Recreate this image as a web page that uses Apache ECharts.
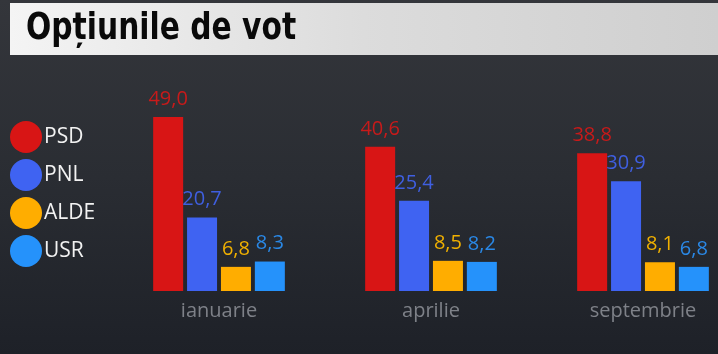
<!DOCTYPE html>
<html>
<head>
<meta charset="utf-8">
<script src="https://cdn.jsdelivr.net/npm/echarts@6/dist/echarts.min.js"></script>
<style>
  html, body { margin: 0; padding: 0; }
  #container { width: 718px; height: 354px; }
</style>
</head>
<body>
<div id="container"></div>
<script>
var months = ['ianuarie', 'aprilie', 'septembrie'];
var parties = ['PSD', 'PNL', 'ALDE', 'USR'];
var psd = [49.0, 40.6, 38.8];
var pnl = [20.7, 25.4, 30.9];
var alde = [6.8, 8.5, 8.1];
var usr = [8.3, 8.2, 6.8];
var barColors = ['#d81515', '#3f63f2', '#ffad00', '#2592fb'];
var labelColors = ['#c81a1a', '#3f5fe0', '#f0b000', '#2a88e6'];

var dom = document.getElementById("container");
var myChart = echarts.init(dom);

function makeSeries(i, data) {
    return {
        name: parties[i],
        type: 'bar',
        data: data,
        barWidth: 30,
        barGap: '13%',
        itemStyle: { color: barColors[i] },
        label: {
            show: true,
            position: 'top',
            distance: 8,
            color: labelColors[i],
            fontFamily: 'Open Sans',
            fontSize: 20,
            formatter: function (p) { return p.value.toFixed(1).replace('.', ','); }
        }
    };
}

option = {
    backgroundColor: {
        type: 'linear', x: 0, y: 0, x2: 0, y2: 1,
        colorStops: [
            { offset: 0, color: '#34363b' },
            { offset: 0.5, color: '#2a2d33' },
            { offset: 1, color: '#1e2128' }
        ]
    },
    graphic: [
        {
            type: 'rect',
            shape: { x: 10, y: 3, width: 708, height: 52 },
            style: {
                fill: {
                    type: 'linear', x: 0, y: 0, x2: 1, y2: 0,
                    colorStops: [
                        { offset: 0, color: '#f4f4f4' },
                        { offset: 0.5, color: '#dcdcdc' },
                        { offset: 1, color: '#cfcfcf' }
                    ]
                }
            }
        },
        {
            type: 'text',
            x: 26,
            y: 10,
            scaleX: 0.87,
            style: {
                text: 'Opțiunile de vot',
                fill: '#0a0a0a',
                font: 'bold 38px "DejaVu Sans Condensed", "DejaVu Sans"'
            }
        }
    ],
    legend: {
        orient: 'vertical',
        left: 5,
        top: 116,
        icon: 'circle',
        itemWidth: 32,
        itemHeight: 32,
        itemGap: 6,
        data: parties,
        textStyle: { color: '#f2f2f2', fontSize: 21, fontFamily: 'Open Sans', padding: [0, 0, 0, -3] }
    },
    grid: { left: 113, width: 636, top: 78, bottom: 63, outerBoundsMode: 'none' },
    xAxis: {
        type: 'category',
        data: months,
        axisLine: { show: false },
        axisTick: { show: false },
        axisLabel: { color: '#7e8188', fontSize: 20, fontFamily: 'Open Sans', margin: 10 }
    },
    yAxis: {
        type: 'value',
        min: 0,
        max: 60,
        show: false
    },
    series: [
        makeSeries(0, psd),
        makeSeries(1, pnl),
        makeSeries(2, alde),
        makeSeries(3, usr)
    ]
};
if (option && typeof option === "object") {
    myChart.setOption(option, true);
}
</script>
</body>
</html>
